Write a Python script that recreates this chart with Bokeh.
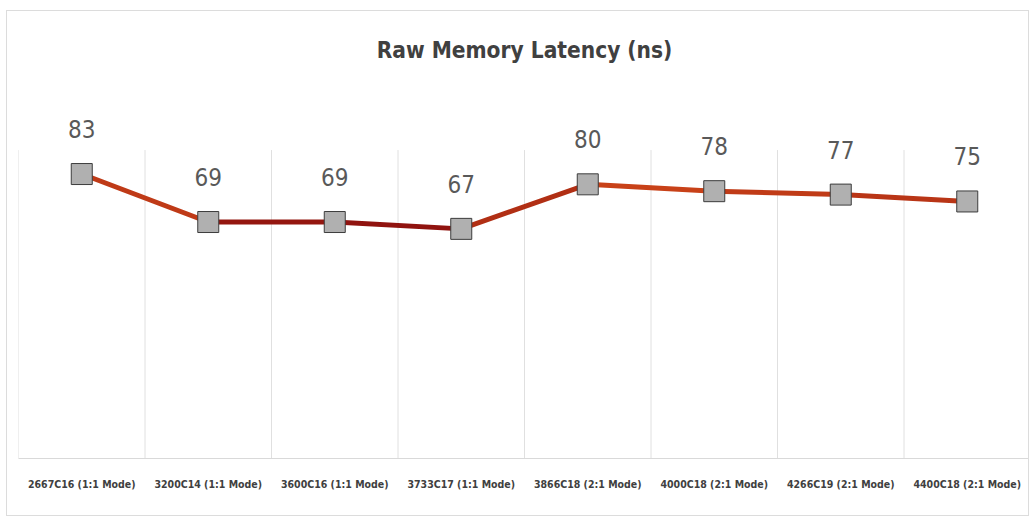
from bokeh.plotting import figure
from bokeh.models import Range1d, FixedTicker, ColumnDataSource
from bokeh.core.properties import value
from bokeh.embed import file_html
from bokeh.resources import INLINE

categories = ["2667C16 (1:1 Mode)", "3200C14 (1:1 Mode)", "3600C16 (1:1 Mode)",
              "3733C17 (1:1 Mode)", "3866C18 (2:1 Mode)", "4000C18 (2:1 Mode)",
              "4266C19 (2:1 Mode)", "4400C18 (2:1 Mode)"]
latency = [83, 69, 69, 67, 80, 78, 77, 75]
axis_max = 90

FONT = "DejaVu Sans Condensed"
n = len(categories)
xs = [i + 0.5 for i in range(n)]

p = figure(width=1023, height=506, x_range=Range1d(0, n), y_range=Range1d(0, 110),
           output_backend="svg", toolbar_location=None,
           min_border_left=11, min_border_right=0, min_border_top=70, min_border_bottom=59)
p.title.text = "Raw Memory Latency (ns)"
p.title.align = "center"
p.title.text_font = FONT
p.title.text_font_size = "22.5px"
p.title.text_font_style = "bold"
p.title.text_color = "#404040"
p.title.standoff = 38
p.outline_line_color = None
p.xgrid.visible = False
p.ygrid.visible = False
p.yaxis.visible = False
p.styles = {"border": "1px solid #dcdcdc", "margin-left": "6px", "margin-top": "10px"}

ax = p.xaxis[0]
ax.ticker = FixedTicker(ticks=xs)
ax.major_label_overrides = {x: c for x, c in zip(xs, categories)}
ax.major_tick_line_color = None
ax.minor_tick_line_color = None
ax.axis_line_color = "#d9d9d9"
ax.major_label_standoff = 13
ax.major_label_text_font = FONT
ax.major_label_text_font_style = "bold"
ax.major_label_text_font_size = "10.5px"
ax.major_label_text_color = "#404040"

# vertical category separators
bx = list(range(n + 1))
p.segment(x0=bx, y0=[0] * len(bx), x1=bx, y1=[axis_max] * len(bx),
          line_color="#e0e0e0", line_width=1)

# line segments coloured from dark red (low) to orange (high)
lo, hi = min(latency), max(latency)
c_lo = (138, 14, 14)
c_hi = (220, 82, 28)
def col(v):
    t = (v - lo) / (hi - lo)
    return "#%02x%02x%02x" % tuple(int(a + (b - a) * t) for a, b in zip(c_lo, c_hi))

seg = ColumnDataSource(dict(
    x0=xs[:-1], x1=xs[1:], y0=latency[:-1], y1=latency[1:],
    c=[col(max(a, b) * 0.6 + min(a, b) * 0.4) for a, b in zip(latency[:-1], latency[1:])]))
p.segment(x0="x0", y0="y0", x1="x1", y1="y1", line_color="c", line_width=5,
          line_cap="round", source=seg)

p.scatter(xs, latency, marker="square", size=21, fill_color="#b0b0b0",
          line_color="#3c3c3c", line_width=1)

p.text(xs, latency, text=[str(v) for v in latency], y_offset=-45,
       text_align="center", text_baseline="middle",
       text_font=value(FONT), text_font_size="24px",
       text_color="#595959")

open("out.html", "w").write(file_html(p, INLINE))
